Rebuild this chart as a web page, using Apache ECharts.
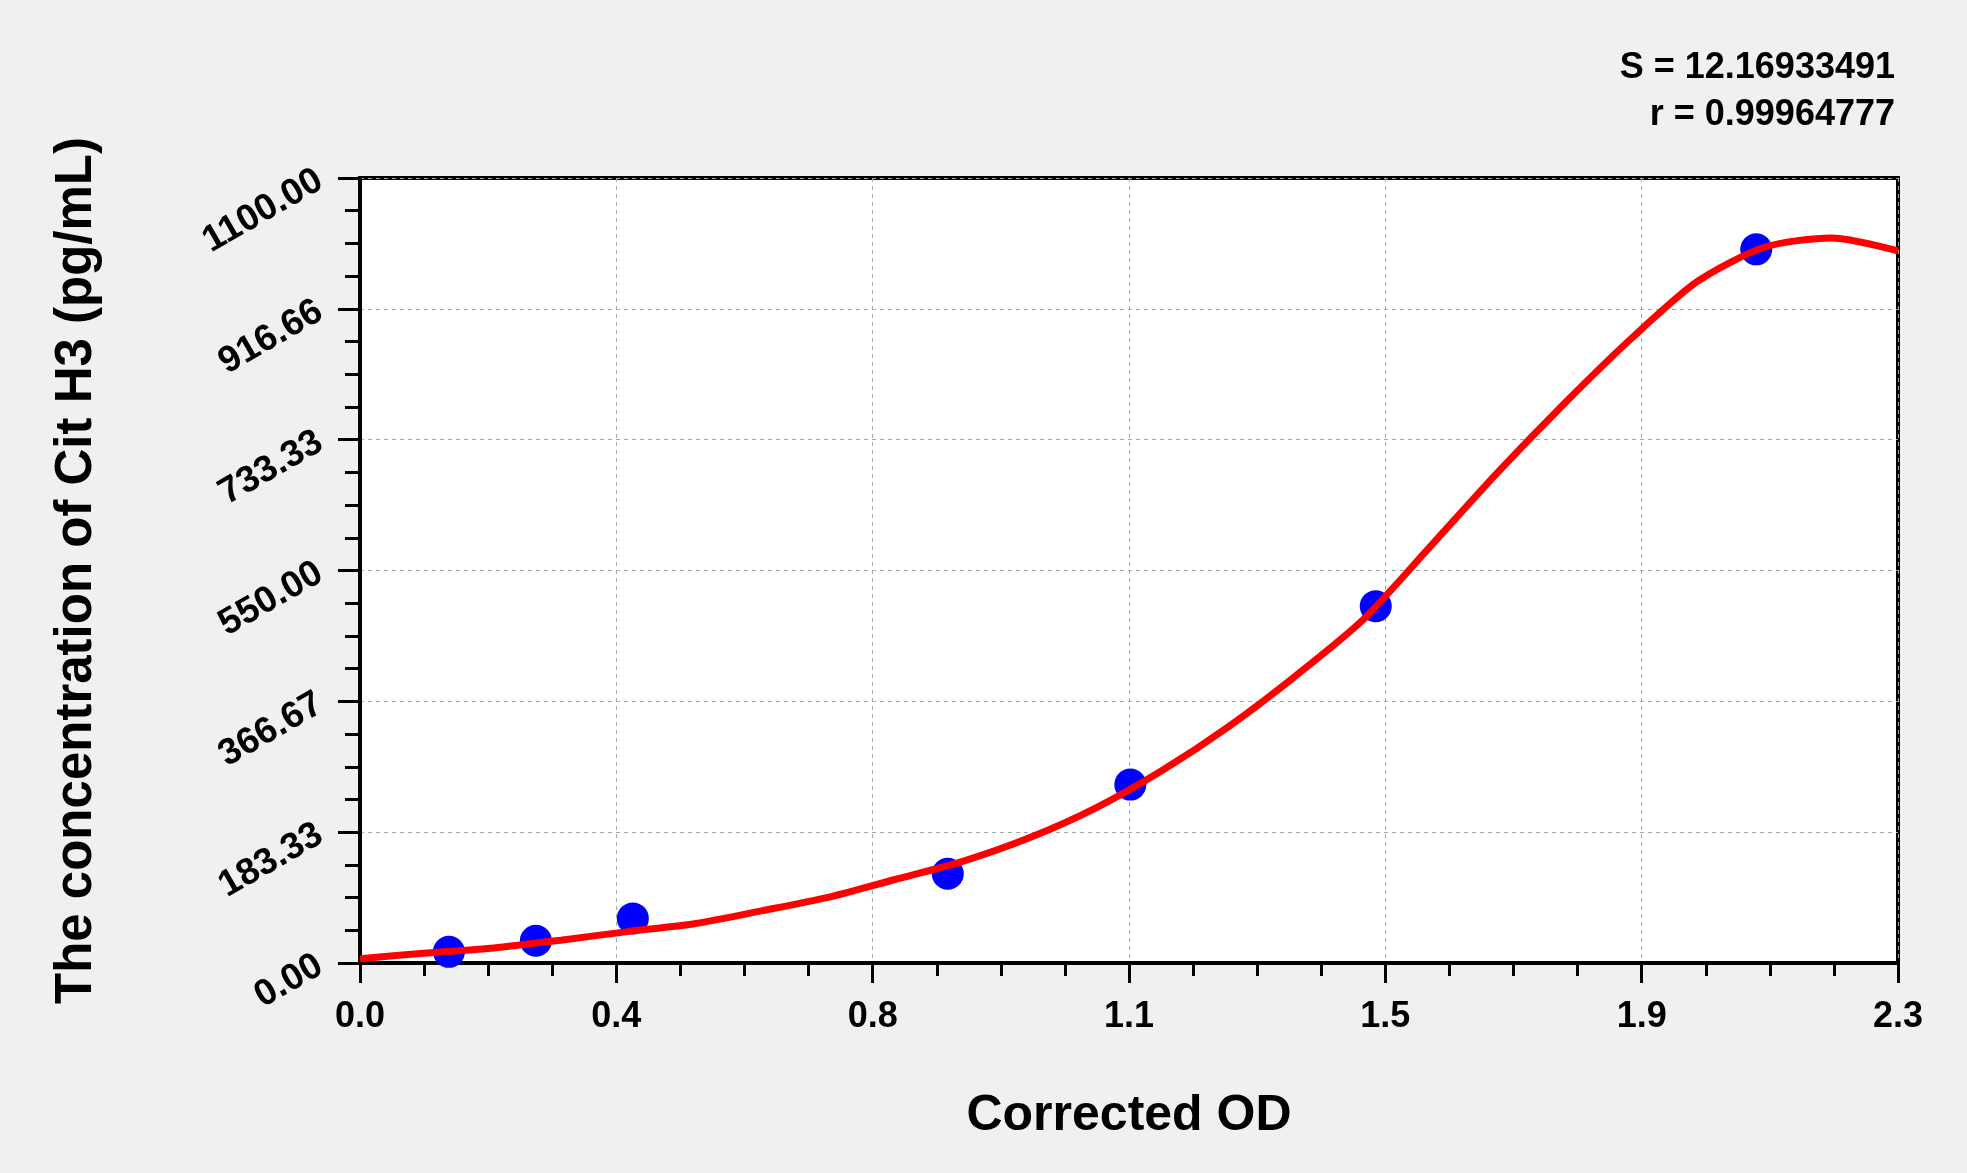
<!DOCTYPE html>
<html>
<head>
<meta charset="utf-8">
<script src="https://cdn.jsdelivr.net/npm/echarts@6.0.0/dist/echarts.min.js"></script>
<style>
  html, body { margin: 0; padding: 0; background: #f0f0f0; }
  #chart { width: 1967px; height: 1173px; }
</style>
</head>
<body>
<div id="chart"></div>
<script>
// standards: corrected OD vs concentration
var standardOD = [0.133, 0.263, 0.408, 0.879, 1.152, 1.519, 2.088];
var standardConc = [15.6, 31.25, 62.5, 125, 250, 500, 1000];

// fitted curve
var curveOD = [0.0, 0.1, 0.2, 0.3, 0.4, 0.5, 0.6, 0.7, 0.8, 0.9, 1.0, 1.1,
    1.2, 1.3, 1.4, 1.5, 1.6, 1.7, 1.8, 1.9, 2.0, 2.1, 2.2, 2.3];
var curveConc = [6, 14, 21, 32, 44, 55, 73, 92, 117, 142, 175, 217,
    270, 332, 403, 481, 583, 686, 783, 874, 955, 1003, 1016, 998];

var xTickLabels = ['0.0', '0.4', '0.8', '1.1', '1.5', '1.9', '2.3'];
var yTickLabels = ['0.00', '183.33', '366.67', '550.00', '733.33', '916.66', '1100.00'];

var fitStats = ['S = 12.16933491', 'r = 0.99964777'];

var xMax = 2.3, yMax = 1100;
var xStep = xMax / 6, yStep = yMax / 6;
var font = 'Liberation Sans, Arial, sans-serif';

var scatterData = [];
for (var i = 0; i < standardOD.length; i++) {
    scatterData.push([standardOD[i], standardConc[i]]);
}
var lineData = [];
for (var j = 0; j < curveOD.length; j++) {
    lineData.push([curveOD[j], curveConc[j]]);
}

var mychart = echarts.init(document.getElementById('chart'));
mychart.setOption({
    animation: false,
    backgroundColor: '#f0f0f0',
    grid: {
        left: 360,
        right: 69,
        top: 178,
        bottom: 210,
        show: true,
        backgroundColor: '#ffffff',
        borderColor: '#000000',
        borderWidth: 4
    },
    graphic: [
        {
            type: 'text',
            right: 72,
            top: 50,
            style: {
                text: fitStats[0],
                font: 'bold 36px ' + font,
                fill: '#000'
            }
        },
        {
            type: 'text',
            right: 72,
            top: 97,
            style: {
                text: fitStats[1],
                font: 'bold 36px ' + font,
                fill: '#000'
            }
        }
    ],
    xAxis: {
        type: 'value',
        min: 0,
        max: xMax,
        interval: xStep,
        name: 'Corrected OD',
        nameLocation: 'middle',
        nameGap: 128,
        nameTextStyle: {
            fontFamily: font,
            fontWeight: 'bold',
            fontSize: 50,
            color: '#000'
        },
        axisLine: { show: true, lineStyle: { color: '#000', width: 4 } },
        axisTick: { show: true, length: 20, lineStyle: { color: '#000', width: 3 } },
        minorTick: { show: true, splitNumber: 4, length: 13, lineStyle: { color: '#000', width: 3 } },
        axisLabel: {
            margin: 36,
            fontFamily: font,
            fontWeight: 'bold',
            fontSize: 36,
            color: '#000',
            formatter: function (v) {
                return xTickLabels[Math.round(v / xStep)];
            }
        },
        splitLine: { show: true, lineStyle: { color: '#a8a8a8', width: 1, type: [4, 4] } }
    },
    yAxis: {
        type: 'value',
        min: 0,
        max: yMax,
        interval: yStep,
        name: 'The concentration of Cit H3 (pg/mL)',
        nameLocation: 'middle',
        nameGap: 258,
        nameTextStyle: {
            fontFamily: font,
            fontWeight: 'bold',
            fontSize: 51,
            color: '#000'
        },
        axisLine: { show: true, lineStyle: { color: '#000', width: 4 } },
        axisTick: { show: true, length: 22, lineStyle: { color: '#000', width: 3 } },
        minorTick: { show: true, splitNumber: 4, length: 15, lineStyle: { color: '#000', width: 3 } },
        axisLabel: {
            margin: 40,
            rotate: 30,
            fontFamily: font,
            fontWeight: 'bold',
            fontSize: 37,
            color: '#000',
            formatter: function (v) {
                return yTickLabels[Math.round(v / yStep)];
            }
        },
        splitLine: { show: true, lineStyle: { color: '#a8a8a8', width: 1, type: [4, 4] } }
    },
    series: [
        {
            name: 'standards',
            type: 'scatter',
            data: scatterData,
            symbol: 'circle',
            symbolSize: 32,
            itemStyle: { color: '#0000ff', opacity: 1 },
            z: 2
        },
        {
            name: 'fit',
            type: 'line',
            data: lineData,
            showSymbol: false,
            smooth: 0.25,
            lineStyle: { color: '#ff0000', width: 7 },
            z: 3
        }
    ]
});
</script>
</body>
</html>
